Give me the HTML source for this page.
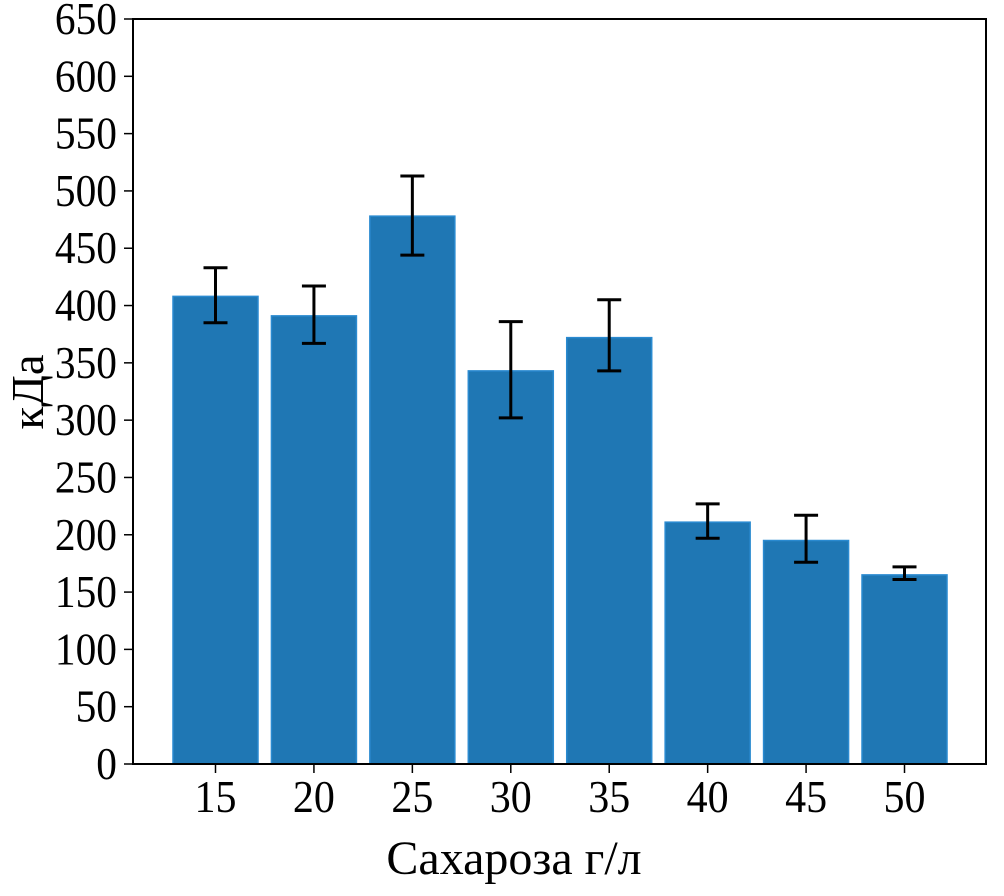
<!DOCTYPE html>
<html><head><meta charset="utf-8"><style>
html,body{margin:0;padding:0;background:#fff;}
svg text{font-family:"Liberation Serif",serif;fill:#000;}
</style></head><body>
<svg id="chart" width="1004" height="891" viewBox="0 0 1004 891" xmlns="http://www.w3.org/2000/svg">
<g id="bars"></g><g id="errs"></g><g id="axes"></g>
</svg>
<script>
const categories = ["15","20","25","30","35","40","45","50"];
const values = [408, 391, 478, 343, 372, 211, 195, 165];
const errHigh = [433, 417, 513, 386, 405, 227, 217, 172];
const errLow = [385, 367, 444, 302, 343, 197, 176, 161];
const yTicks = [0,50,100,150,200,250,300,350,400,450,500,550,600,650];

const NS="http://www.w3.org/2000/svg";
const L=133, R=986, T=19, B=764, yMax=650;
const first=215.5, step=98.43, bw=85;
function y(v){return B-(v/yMax)*(B-T);}
function x(i){return first+i*step;}
function mk(tag,attrs,parent){const e=document.createElementNS(NS,tag);for(const k in attrs)e.setAttribute(k,attrs[k]);parent.appendChild(e);return e;}
const bars=document.getElementById('bars'), errs=document.getElementById('errs'), axes=document.getElementById('axes');
categories.forEach((c,i)=>{
  const r=mk('rect',{x:x(i)-bw/2,y:y(values[i]),width:bw,height:B-y(values[i]),fill:'#1f77b4',stroke:'#2a8ad0','stroke-width':1.5},bars);
  
  
  const g=mk('g',{stroke:'#000','stroke-width':3},errs);
  
  
  mk('line',{x1:x(i),x2:x(i),y1:y(errHigh[i]),y2:y(errLow[i])},g);
  mk('line',{x1:x(i)-12,x2:x(i)+12,y1:y(errHigh[i]),y2:y(errHigh[i])},g);
  mk('line',{x1:x(i)-12,x2:x(i)+12,y1:y(errLow[i]),y2:y(errLow[i])},g);
  mk('line',{x1:x(i),x2:x(i),y1:B,y2:B+9,stroke:'#000','stroke-width':1.5},axes);
  const t=mk('text',{x:x(i),y:B+48,'text-anchor':'middle','font-size':46,textLength:c.length*21,lengthAdjust:'spacingAndGlyphs'},axes);
  t.textContent=c;
  
  
});
yTicks.forEach(v=>{
  mk('line',{x1:L-9,x2:L,y1:y(v),y2:y(v),stroke:'#000','stroke-width':1.5},axes);
  const s=String(v);
  const t=mk('text',{x:L-16,y:y(v)+15,'text-anchor':'end','font-size':46,textLength:s.length*20.7,lengthAdjust:'spacingAndGlyphs'},axes);
  t.textContent=s;
  
  
});
const frame=mk('rect',{x:L,y:T,width:R-L,height:B-T,fill:'none',stroke:'#000','stroke-width':2},axes);


const xt=mk('text',{x:514,y:874,'text-anchor':'middle','font-size':48},axes);
xt.textContent='Сахароза г/л';


const yt=mk('text',{x:0,y:0,'text-anchor':'middle','font-size':46,textLength:75,lengthAdjust:'spacingAndGlyphs',transform:'translate(43,392) rotate(-90)'},axes);
yt.textContent='кДа';


</script>
</body></html>
